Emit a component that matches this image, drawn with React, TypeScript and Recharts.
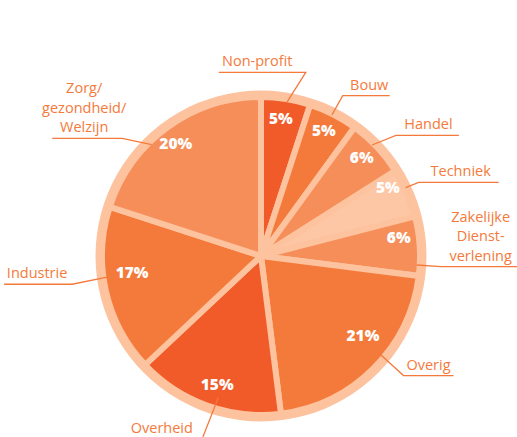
import React from "react";
import { PieChart, Pie, Cell } from "recharts";

const categories = [
  "Non-profit",
  "Bouw",
  "Handel",
  "Techniek",
  "Zakelijke Dienstverlening",
  "Overig",
  "Overheid",
  "Industrie",
  "Zorg/gezondheid/Welzijn",
];
const values = [5, 5, 6, 5, 6, 21, 15, 17, 20];
const labelLines = [
  ["Non-profit"],
  ["Bouw"],
  ["Handel"],
  ["Techniek"],
  ["Zakelijke", "Dienst-", "verlening"],
  ["Overig"],
  ["Overheid"],
  ["Industrie"],
  ["Zorg/", "gezondheid/", "Welzijn"],
];

const colors = [
  "#f15a29",
  "#f47a3b",
  "#f68e5a",
  "#fdc6a5",
  "#f68e5a",
  "#f47a3b",
  "#f15a29",
  "#f47a3b",
  "#f68e5a",
];
const RING = "#fdc29e";
const TEXT = "#f47a3b";

// label layout (angles clockwise from 12 o'clock, offsets from slice mid angle)
const layout = [
  { sA: 0.6, dA: 4.7, startR: 156, elbowR: 189, dir: -1, len: 87, tdx: -5, pA: -0.8, pR: 139 },
  { sA: -0.3, dA: 0, startR: 158, elbowR: 180, dir: 1, len: 47, tdx: 3, pA: -0.3, pR: 140 },
  { sA: -1.8, dA: 1.4, startR: 157, elbowR: 181, dir: 1, len: 63, tdx: 1, pA: -1.2, pR: 141 },
  { sA: -1.9, dA: -1.6, startR: 160, elbowR: 174, dir: 1, len: 80, tdx: 2, pA: -4.8, pR: 144 },
  { sA: 6.9, dA: 7, startR: 156, elbowR: 180, dir: 1, len: 80, tdx: 0, pA: -4.2, pR: 139 },
  { sA: -5.7, dA: -5, startR: 143, elbowR: 186, dir: 1, len: 50, tdx: 0, pA: -7.2, pR: 129 },
  { sA: -3, dA: -2, startR: 148, elbowR: 190, dir: 0, len: 0, tdx: 0, pA: -1, pR: 136 },
  { sA: 4.8, dA: 4.1, startR: 154, elbowR: 191, dir: -1, len: 68, tdx: -1, pA: 5.1, pR: 130 },
  { sA: -8.5, dA: -13.7, startR: 156, elbowR: 182, dir: -1, len: 70, tdx: -3, pA: -1.2, pR: 141 },
];

const data = categories.map((name, i) => ({ name, value: values[i] }));
const ringData = [{ name: "ring", value: 1 }];

const RAD = Math.PI / 180;
const FONT = "'Open Sans', 'Noto Sans', sans-serif";

function polar(cx: number, cy: number, r: number, clockFromTop: number) {
  return {
    x: cx + r * Math.sin(clockFromTop * RAD),
    y: cy - r * Math.cos(clockFromTop * RAD),
  };
}

const renderLabel = (props: any) => {
  const { cx, cy, midAngle, index, value } = props;
  const L = layout[index];
  const mid = 90 - midAngle; // clockwise from top
  const s = polar(cx, cy, L.startR, mid + L.sA);
  const e = polar(cx, cy, L.elbowR, mid + L.dA);
  const endX = e.x + L.dir * L.len;
  const p = polar(cx, cy, L.pR, mid + L.pA);
  const lines = labelLines[index];
  let tx: number;
  let anchor: "middle" | "end" = "middle";
  if (L.dir === 0) {
    tx = e.x - 10;
    anchor = "end";
  } else {
    tx = (e.x + endX) / 2 + L.tdx;
  }
  const baseLast = e.y - 6;
  const lh = 19.5;
  return (
    <g key={`lbl-${index}`}>
      <text
        x={p.x}
        y={p.y + 5.5}
        textAnchor="middle"
        fill="#ffffff"
        fontFamily={FONT}
        fontWeight={800}
        fontSize={15.5}
      >
        {value}%
      </text>
      <polyline
        points={`${s.x},${s.y} ${e.x},${e.y} ${endX},${e.y}`}
        fill="none"
        stroke={TEXT}
        strokeWidth={1.3}
      />
      {lines.map((ln, k) => (
        <text
          key={k}
          x={tx}
          y={L.dir === 0 ? e.y - 4 : baseLast - (lines.length - 1 - k) * lh}
          textAnchor={anchor}
          fill={TEXT}
          fontFamily={FONT}
          fontSize={14.5}
        >
          {ln}
        </text>
      ))}
    </g>
  );
};

export default function App() {
  return (
    <div style={{ position: "absolute", left: 0, top: 0, width: 517, height: 437, background: "#ffffff" }}>
      <PieChart width={517} height={437} margin={{ top: 0, right: 0, bottom: 0, left: 0 }}>
        <Pie
          data={ringData}
          dataKey="value"
          cx={261}
          cy={256}
          outerRadius={165.5}
          startAngle={90}
          endAngle={-270}
          fill={RING}
          stroke="none"
          isAnimationActive={false}
          label={false}
          labelLine={false}
        />
        <Pie
          data={data}
          dataKey="value"
          nameKey="name"
          cx={261}
          cy={256}
          outerRadius={159}
          startAngle={90}
          endAngle={-270}
          stroke={RING}
          strokeWidth={6}
          isAnimationActive={false}
          labelLine={false}
          label={renderLabel}
        >
          {data.map((d, i) => (
            <Cell key={d.name} fill={colors[i]} stroke={RING} strokeWidth={6} />
          ))}
        </Pie>
      </PieChart>
    </div>
  );
}
